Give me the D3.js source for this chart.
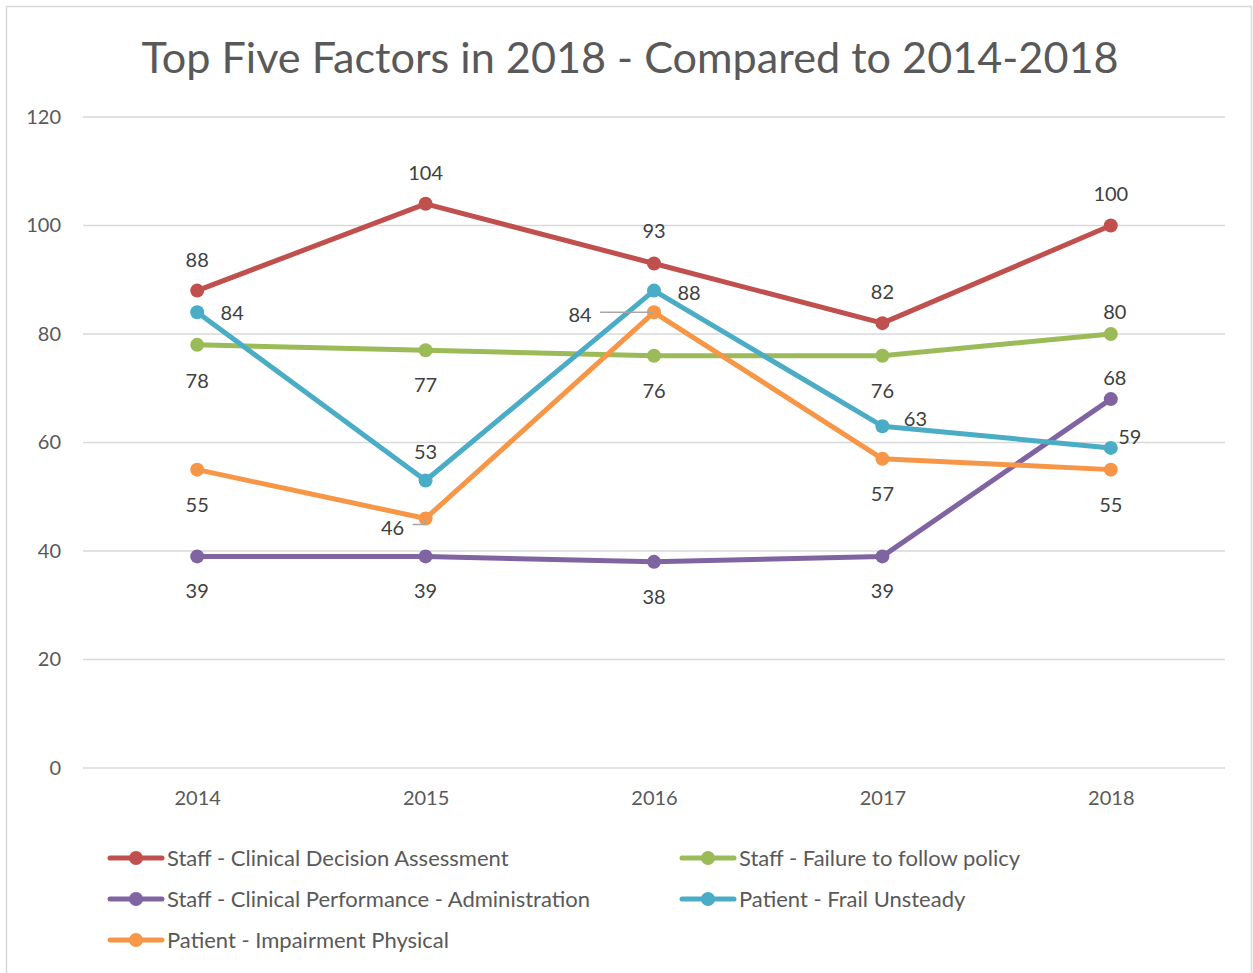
<!DOCTYPE html>
<html>
<head>
<meta charset="utf-8">
<script src="https://cdn.jsdelivr.net/npm/d3@7"></script>
<style>
  body { margin: 0; background: #fff; }
  text { font-family: Lato, "Open Sans", sans-serif; }
</style>
</head>
<body>
<div id="chart"></div>
<script>
// chart data
const years = ["2014", "2015", "2016", "2017", "2018"];
const seriesNames = [
  "Staff - Clinical Decision Assessment",
  "Staff - Failure to follow policy",
  "Staff - Clinical Performance - Administration",
  "Patient - Frail Unsteady",
  "Patient - Impairment Physical"
];
const decisionAssessment = [88, 104, 93, 82, 100];
const failurePolicy = [78, 77, 76, 76, 80];
const clinicalPerformance = [39, 39, 38, 39, 68];
const frailUnsteady = [84, 53, 88, 63, 59];
const impairmentPhysical = [55, 46, 84, 57, 55];
const yTicks = [0, 20, 40, 60, 80, 100, 120];

const colors = ["#C0504D", "#9BBB59", "#8064A2", "#4BACC6", "#F79646"];
const values = [decisionAssessment, failurePolicy, clinicalPerformance, frailUnsteady, impairmentPhysical];

// label offsets (dx, dy) per series, per point - roughly where excel put them
const labelOffsets = [
  [[0, -32], [0, -32], [0, -33], [0, -32], [0, -33]],
  [[0, 35], [0, 34], [0, 34], [0, 34], [4, -23]],
  [[0, 34], [0, 34], [0, 34], [0, 34], [4, -22]],
  [[35, 0], [0, -29], [35, 1], [33, -8], [19, -12]],
  [[0, 34], [-33, 9], [-74, 2], [0, 34], [0, 34]]
];

const width = 1253, height = 973;
const svg = d3.select("#chart").append("svg")
  .attr("width", width)
  .attr("height", height);

// outer border
svg.append("rect")
  .attr("x", 6.5).attr("y", 6.5)
  .attr("width", 1245).attr("height", 975)
  .attr("fill", "#fff")
  .attr("stroke", "#d9d9d9")
  .attr("stroke-width", 1.5);

svg.append("text")
  .attr("x", 630).attr("y", 73)
  .attr("text-anchor", "middle")
  .attr("font-size", 43.2)
  .attr("fill", "#595959")
  .text("Top Five Factors in 2018 - Compared to 2014-2018");

const x = d3.scalePoint().domain(years).range([83, 1225]).padding(0.5);
const y = d3.scaleLinear().domain([0, 120]).range([768, 117]);

// gridlines
svg.append("g").selectAll("line")
  .data(yTicks)
  .enter().append("line")
  .attr("x1", 83).attr("x2", 1225)
  .attr("y1", d => y(d)).attr("y2", d => y(d))
  .attr("stroke", "#d9d9d9")
  .attr("stroke-width", 1.5);

// y axis labels
const yAxis = d3.axisLeft(y).tickValues(yTicks).tickSize(0).tickPadding(0);
svg.append("g")
  .attr("transform", "translate(61,0)")
  .call(yAxis)
  .call(g => g.select(".domain").remove())
  .call(g => g.selectAll("text")
    .attr("font-size", 20)
    .attr("fill", "#595959")
    .attr("font-family", "Lato, sans-serif"));

// x axis labels
const xAxis = d3.axisBottom(x).tickSize(0).tickPadding(0);
svg.append("g")
  .attr("transform", "translate(0,791)")
  .call(xAxis)
  .call(g => g.select(".domain").remove())
  .call(g => g.selectAll("text")
    .attr("font-size", 20)
    .attr("fill", "#595959")
    .attr("font-family", "Lato, sans-serif"));

const line = d3.line()
  .x((d, i) => x(years[i]))
  .y(d => y(d));

const seriesG = svg.append("g");
values.forEach((vals, s) => {
  seriesG.append("path")
    .datum(vals)
    .attr("d", line)
    .attr("fill", "none")
    .attr("stroke", colors[s])
    .attr("stroke-width", 5)
    .attr("stroke-linejoin", "round");
  seriesG.selectAll(".pt" + s)
    .data(vals)
    .enter().append("circle")
    .attr("cx", (d, i) => x(years[i]))
    .attr("cy", d => y(d))
    .attr("r", 7)
    .attr("fill", colors[s]);
});

// leader lines for the moved orange labels
const lead = svg.append("g").attr("stroke", "#a6a6a6").attr("stroke-width", 1.5).attr("fill", "none");
lead.append("path")
  .attr("d", `M${x("2015") - 13},${y(impairmentPhysical[1]) + 6} H${x("2015") - 1} V${y(impairmentPhysical[1]) + 1}`);
lead.append("path")
  .attr("d", `M${x("2016") - 54},${y(impairmentPhysical[2])} H${x("2016")}`);

// data labels
const labelG = svg.append("g");
values.forEach((vals, s) => {
  labelG.selectAll(".lb" + s)
    .data(vals)
    .enter().append("text")
    .attr("x", (d, i) => x(years[i]) + labelOffsets[s][i][0])
    .attr("y", (d, i) => y(d) + labelOffsets[s][i][1])
    .attr("text-anchor", "middle")
    .attr("dominant-baseline", "central")
    .attr("font-size", 20)
    .attr("fill", "#404040")
    .text(d => d);
});

// legend
const legendPos = [[108, 858], [680, 858], [108, 899], [680, 899], [108, 940]];
const legend = svg.append("g");
seriesNames.forEach((name, s) => {
  const [lx, ly] = legendPos[s];
  const g = legend.append("g").attr("transform", `translate(${lx},${ly})`);
  g.append("line")
    .attr("x1", 2).attr("x2", 54)
    .attr("stroke", colors[s])
    .attr("stroke-width", 5)
    .attr("stroke-linecap", "round");
  g.append("circle").attr("cx", 28).attr("r", 7).attr("fill", colors[s]);
  g.append("text")
    .attr("x", 59)
    .attr("y", -1)
    .attr("dominant-baseline", "central")
    .attr("font-size", 22)
    .attr("fill", "#595959")
    .text(name);
});
</script>
</body>
</html>
